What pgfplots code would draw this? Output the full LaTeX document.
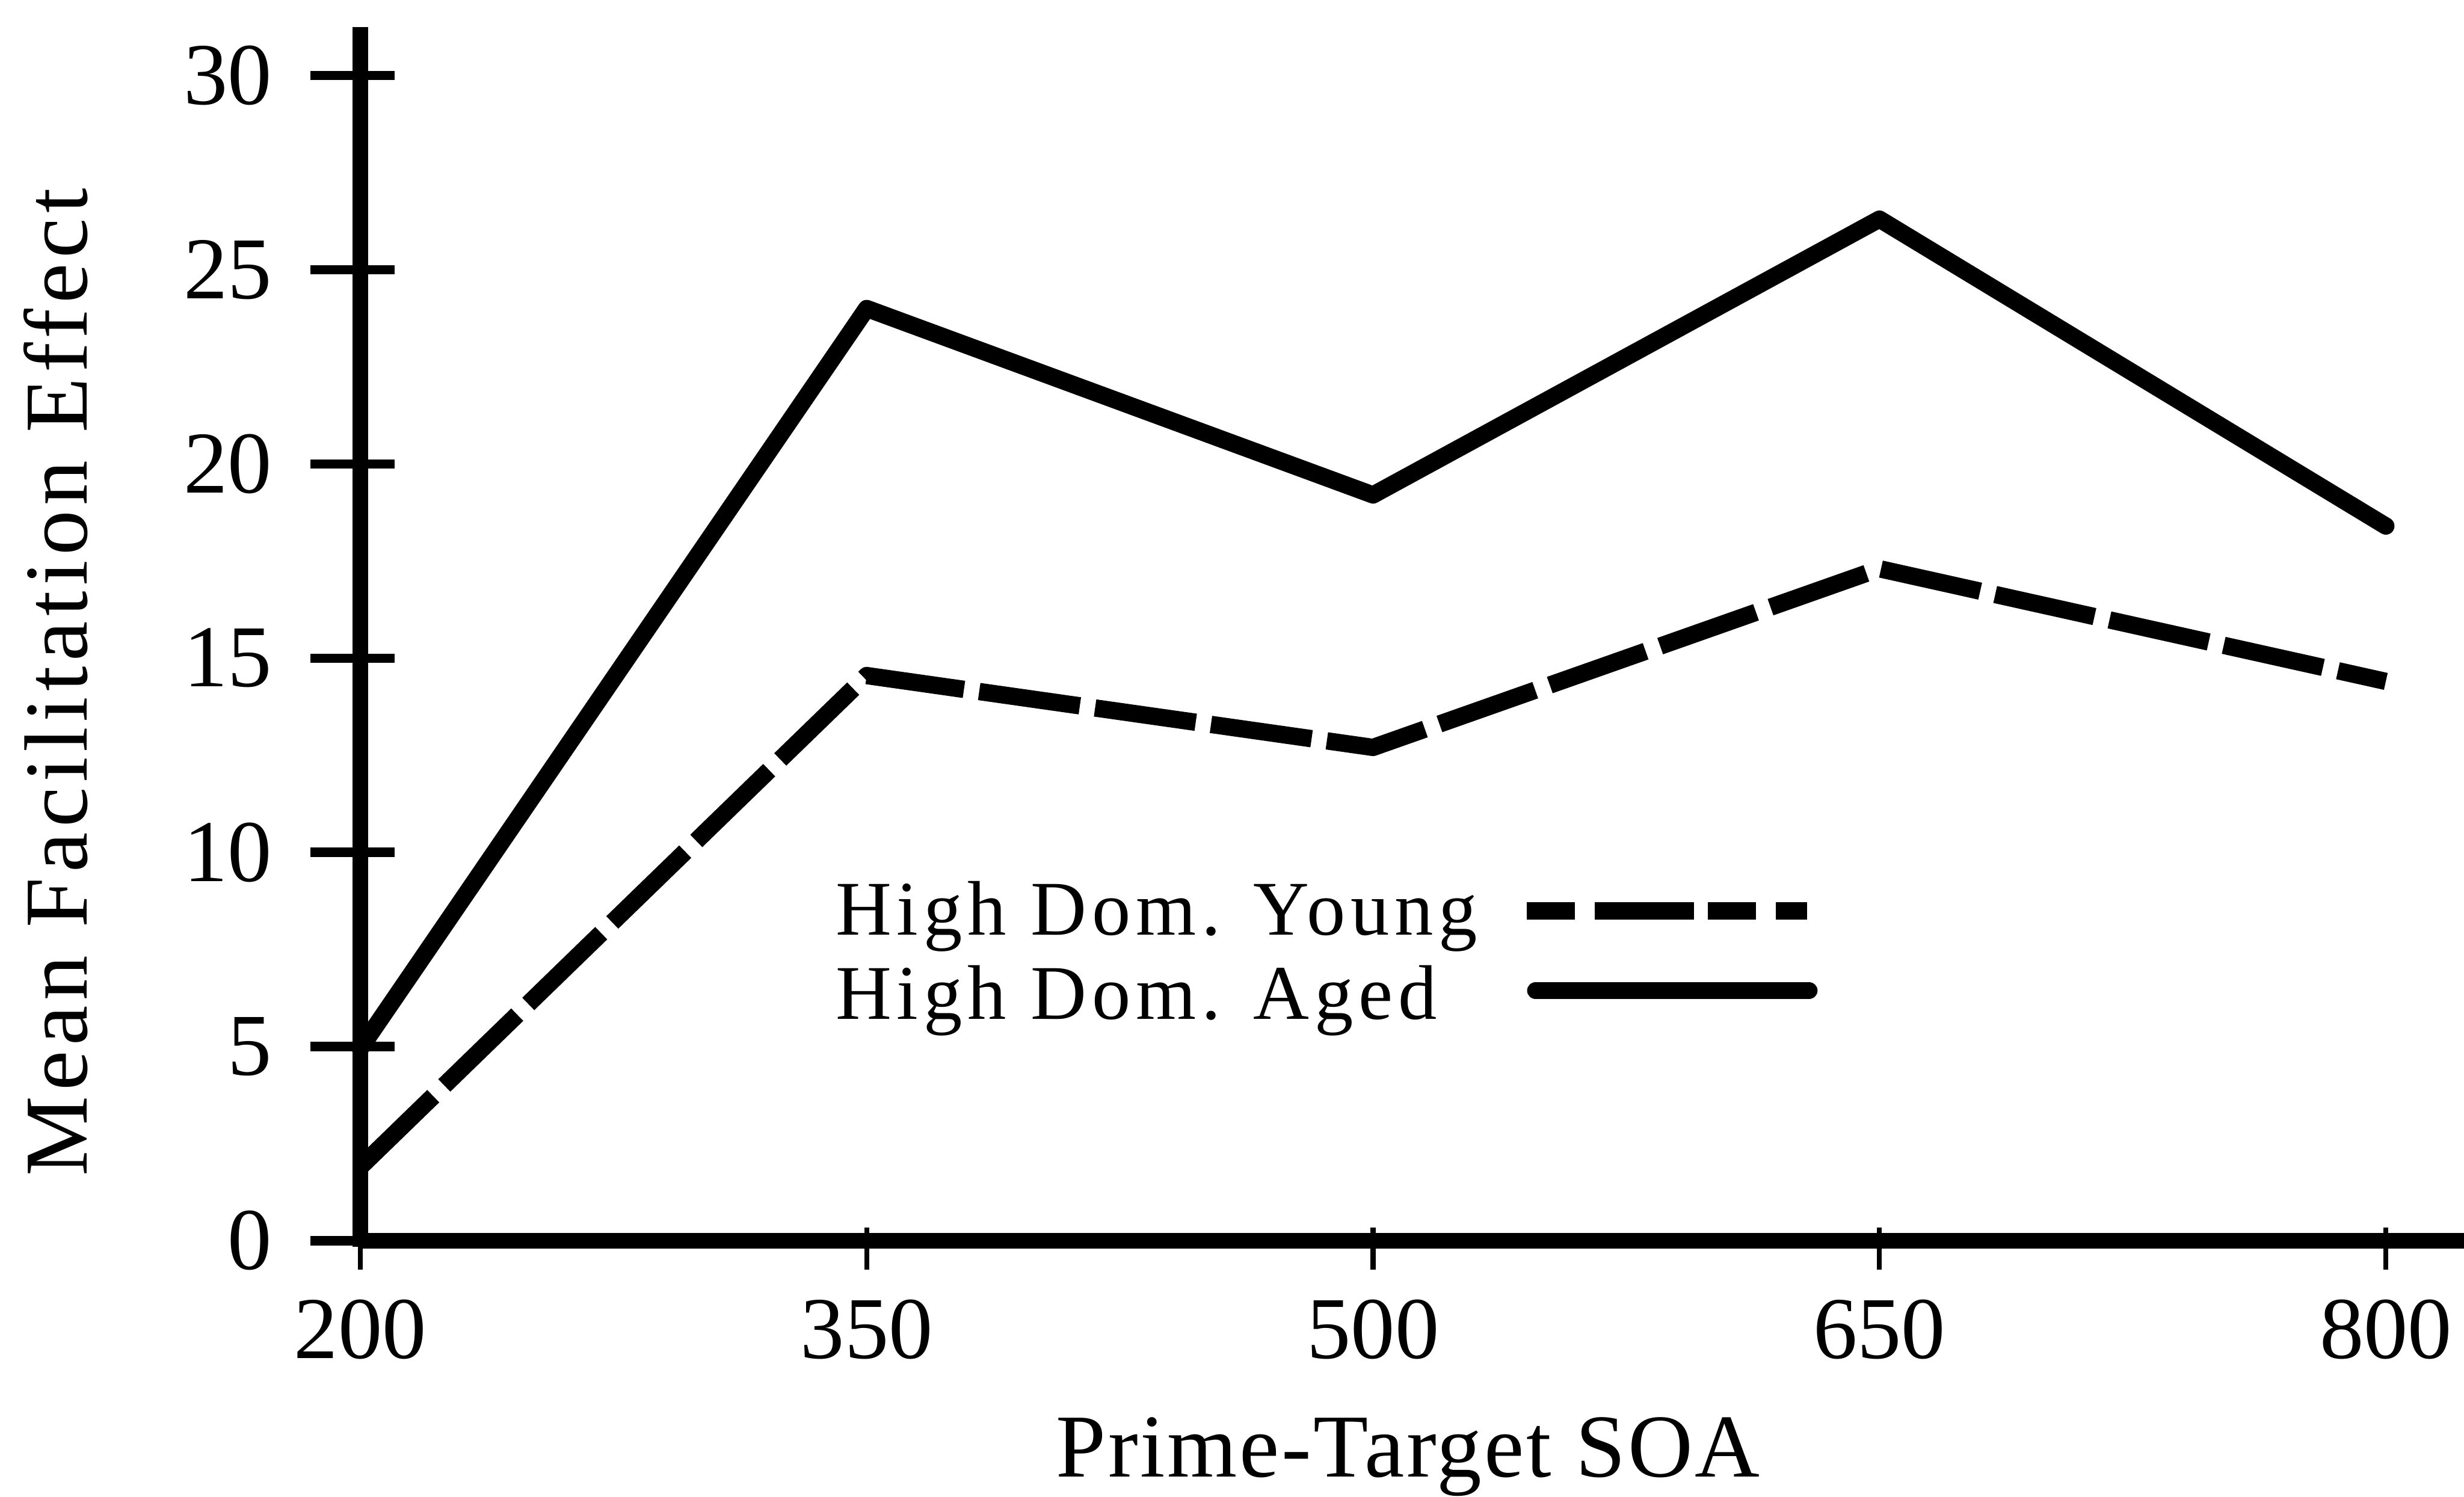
\documentclass[border=0pt]{standalone}
\usepackage{fontspec}
\setmainfont{Liberation Serif}
\usepackage{pgfplots}
\pgfplotsset{compat=1.18}
\begin{document}
\begin{tikzpicture}
\useasboundingbox (-2.3397,-1.6633) rectangle (13.6603,8.0581);
\begin{axis}[
  at={(0,0)}, anchor=south west,
  scale only axis, width=13.661cm, height=7.881cm,
  xmin=200, xmax=823.2, ymin=0, ymax=31.24,
  clip=false,
  axis lines*=left,
  axis line style={draw=none},
  tick style={draw=none},
  tick align=inside, major tick length=0pt,
  xtick={200,350,500,650,800},
  ytick={0,5,10,15,20,25,30},
  /pgf/number format/assume math mode=true,
  tick label style={font=\fontsize{16.3}{19}\selectfont},
  xticklabel style={anchor=north, inner sep=0pt, yshift=-0.377cm},
  yticklabel style={anchor=east, inner sep=0pt, xshift=-0.566cm},
  xlabel={Prime-Target SOA},
  xlabel style={at={(axis description cs:0.498,-0.1948)}, anchor=base, inner sep=0pt,
    font=\fontsize{16.6}{20}\selectfont\addfontfeature{LetterSpace=2.4}},
  ylabel={Mean Facilitation Effect},
  ylabel style={at={(axis description cs:-0.1299,0.4602)}, anchor=base, inner sep=0pt, rotate=0,
    font=\fontsize{16.6}{20}\selectfont\addfontfeature{LetterSpace=5.9}},
]
% axis lines and ticks
\draw[line width=2.8pt] (axis cs:200,-0.15) -- (axis cs:200,31.24);
\draw[line width=2.8pt] (axis cs:200,0) -- (axis cs:823.2,0);
\pgfplotsinvokeforeach{0,5,10,15,20,25,30}{\draw[line width=1.7pt] (axis cs:185.3,#1) -- (axis cs:210.2,#1);}
\pgfplotsinvokeforeach{200,350,500,650,800}{\draw[line width=0.9pt] (axis cs:#1,0.345) -- (axis cs:#1,-0.75);}

% data
\addplot[black, no markers, line width=3.2pt, line join=round, line cap=round]
  coordinates {(200,4.95) (350,24.0) (500,19.2) (650,26.3) (800,18.4)};
\addplot[black, no markers, line width=3.2pt, line join=round, line cap=butt, dash pattern=on 0.66cm off 0.1cm]
  coordinates {(200,1.9) (350,14.55) (500,12.7) (650,17.3) (800,14.4)};

% legend
\addplot[forget plot, black, no markers, line width=3.2pt, line cap=butt,
  dash pattern=on 0.31cm off 0.13cm on 0.645cm off 0.09cm]
  coordinates {(545.6,8.49) (628.6,8.49)};
\addplot[forget plot, black, no markers, line width=3.2pt, line cap=round]
  coordinates {(548.2,6.44) (629.1,6.44)};
\node[anchor=base west, inner sep=0pt, font=\fontsize{14.3}{17}\selectfont\addfontfeature{LetterSpace=6.8}]
  at (axis cs:340.5,7.87) {High Dom. Young};
\node[anchor=base west, inner sep=0pt, font=\fontsize{14.3}{17}\selectfont\addfontfeature{LetterSpace=6.8}]
  at (axis cs:340.5,5.71) {High Dom. Aged};
\end{axis}
\end{tikzpicture}
\end{document}
